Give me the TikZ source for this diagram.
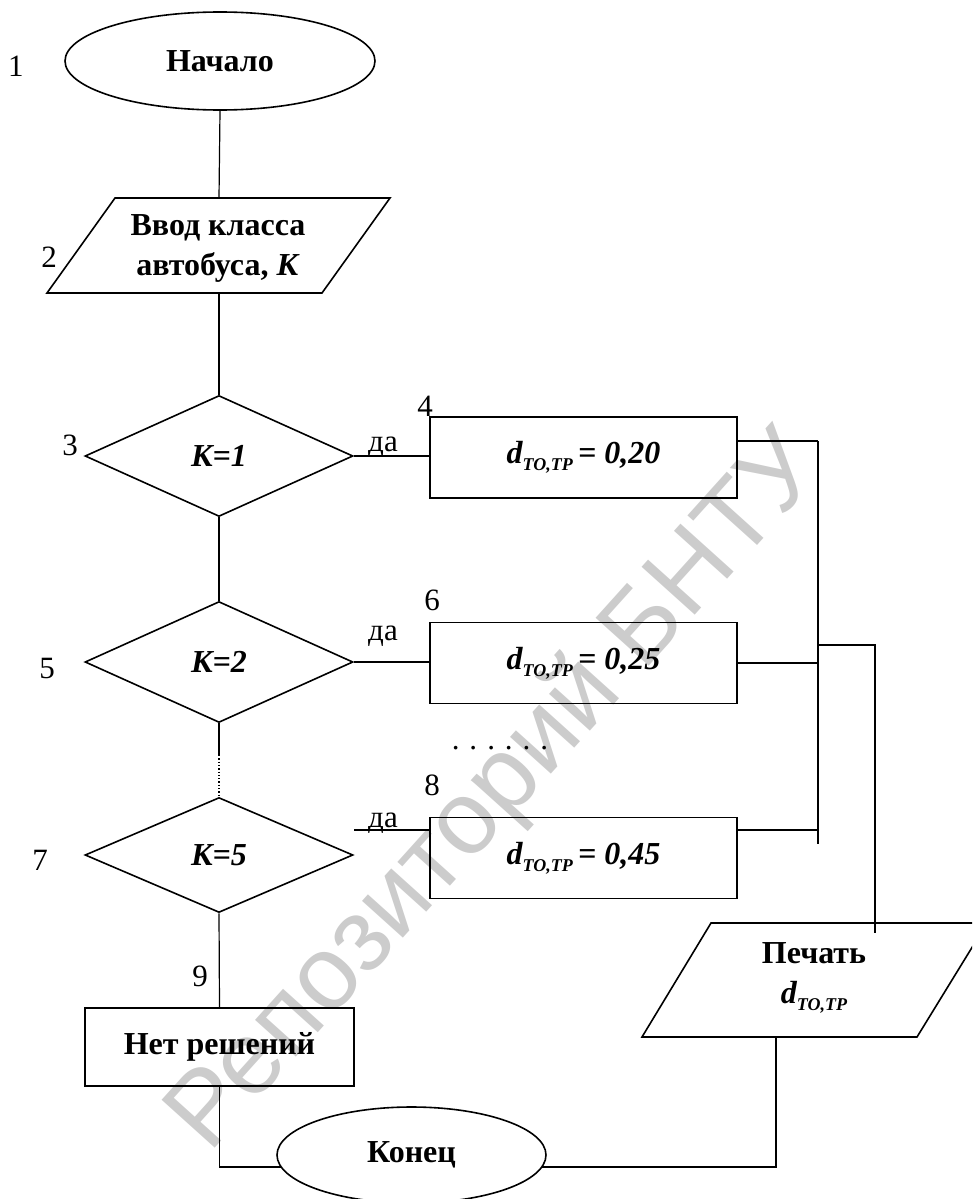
\documentclass[tikz,border=0pt]{standalone}
\usepackage{fontspec}
\setmainfont{Liberation Serif}
\newfontfamily\wmfont{Liberation Sans}
\usetikzlibrary{shapes.geometric}
\newcommand{\dTT}{\textit{d}\raisebox{-0.22em}{\fontsize{18}{18}\selectfont\textit{TO,TP}}}
\begin{document}
\begin{tikzpicture}[x=1pt,y=-1pt, line width=1.2pt,
  lbl/.style={font=\fontsize{31}{32}\selectfont, inner sep=0},
  txt/.style={font=\fontsize{32}{40}\selectfont\bfseries, align=center, inner sep=0},
  shp/.style={line width=1.6pt},
  term/.style={ellipse, draw, shp, inner sep=0, font=\fontsize{32}{38}\selectfont\bfseries},
  decision/.style={diamond, draw, shp, inner sep=0, minimum width=268, minimum height=121, font=\fontsize{32}{38}\selectfont\bfseries\itshape},
  proc/.style={rectangle, draw, shp, inner sep=0, minimum width=307, minimum height=81, font=\fontsize{32}{38}\selectfont\bfseries\itshape},
  wm/.style={font=\wmfont\fontsize{104}{104}\selectfont, text=black!20, inner sep=0},
  dotline/.style={dotted, line width=1.3pt}
]
\useasboundingbox (0,0) rectangle (972,1199);
\clip (0,0) rectangle (972,1199);
% watermark
\node[wm, rotate=48] (wmk) at (497,793) {Репозиторий БНТУ};
% nodes
\node[term, minimum width=310, minimum height=98] (start) at (220,61) {Начало};
\node[txt] (inp) at (218,248) {Ввод класса\\автобуса, \textit{К}};
\draw[shp] (115,198) -- (390,198) -- (322,293) -- (47,293) -- cycle;
\coordinate (inpT) at (219,198);
\coordinate (inpB) at (219,293);
\node[decision] (d1) at (219,456) {К=1};
\node[decision] (d2) at (219,662) {К=2};
\node[decision, minimum height=115] (d5) at (219,855) {К=5};
\node[proc] (b4) at (583.5,457.5) {\dTT\,= 0,20};
\node[proc] (b6) at (583.5,663) {\dTT\,= 0,25};
\node[proc] (b8) at (583.5,858) {\dTT\,= 0,45};
\node[txt, draw, shp, minimum width=269, minimum height=78] (b9) at (219.5,1047) {Нет решений};
\node[term, minimum width=269, minimum height=96] (end) at (411.5,1155) {Конец};
\draw[shp] (711,923) -- (987,923) -- (917,1037) -- (642,1037) -- cycle;
\node[txt] (out) at (814,978) {Печать\\\textit{\dTT}};
% labels
\node[lbl] (n1) at (16,66) {1};
\node[lbl] (n2) at (49,257) {2};
\node[lbl] (n3) at (70,445) {3};
\node[lbl] (n4) at (425,406) {4};
\node[lbl] (n5) at (47,668) {5};
\node[lbl] (n6) at (432,600) {6};
\node[lbl] (n7) at (40,860) {7};
\node[lbl] (n8) at (432,785) {8};
\node[lbl] (n9) at (200,976) {9};
\node[lbl] (y1) at (383,447) {да};
\node[lbl] (y2) at (383,636) {да};
\node[lbl] (y3) at (383,823) {да};
\node[lbl] (dots) at (500,748) {.\hspace{10pt}.\hspace{10pt}.\hspace{10pt}.\hspace{10pt}.\hspace{10pt}.};
% connectors
\draw (start.south) -- (inpT);
\draw (inpB) -- (d1.north);
\draw (d1.east) -- (b4.west |- d1.east);
\draw (d1.south) -- (d2.north);
\draw (d2.east) -- (b6.west |- d2.east);
\coordinate (mid) at (219,755);
\draw (d2.south) -- (mid);
\draw[dotline] (mid) -- (d5.north);
\coordinate (y5) at (354,830);
\draw (y5) -- (b8.west |- y5);
\draw (d5.south) -- (b9.north);
\coordinate (cT) at (818,441);
\coordinate (cB) at (818,844);
\draw (cT) -- (cB);
\draw (b4.east |- cT) -- (cT);
\draw (b6.east) -- (b6.east -| cT);
\draw (b8.east |- y5) -- (cB |- y5);
\coordinate (br) at (818,645);
\coordinate (pT) at (875,933);
\draw (br) -| (pT);
\coordinate (endL) at (281.3,1167);
\coordinate (endR) at (541.7,1167);
\coordinate (pB) at (776,1037);
\draw (b9.south) |- (endL);
\draw (endR) -| (pB);
\end{tikzpicture}
\end{document}
